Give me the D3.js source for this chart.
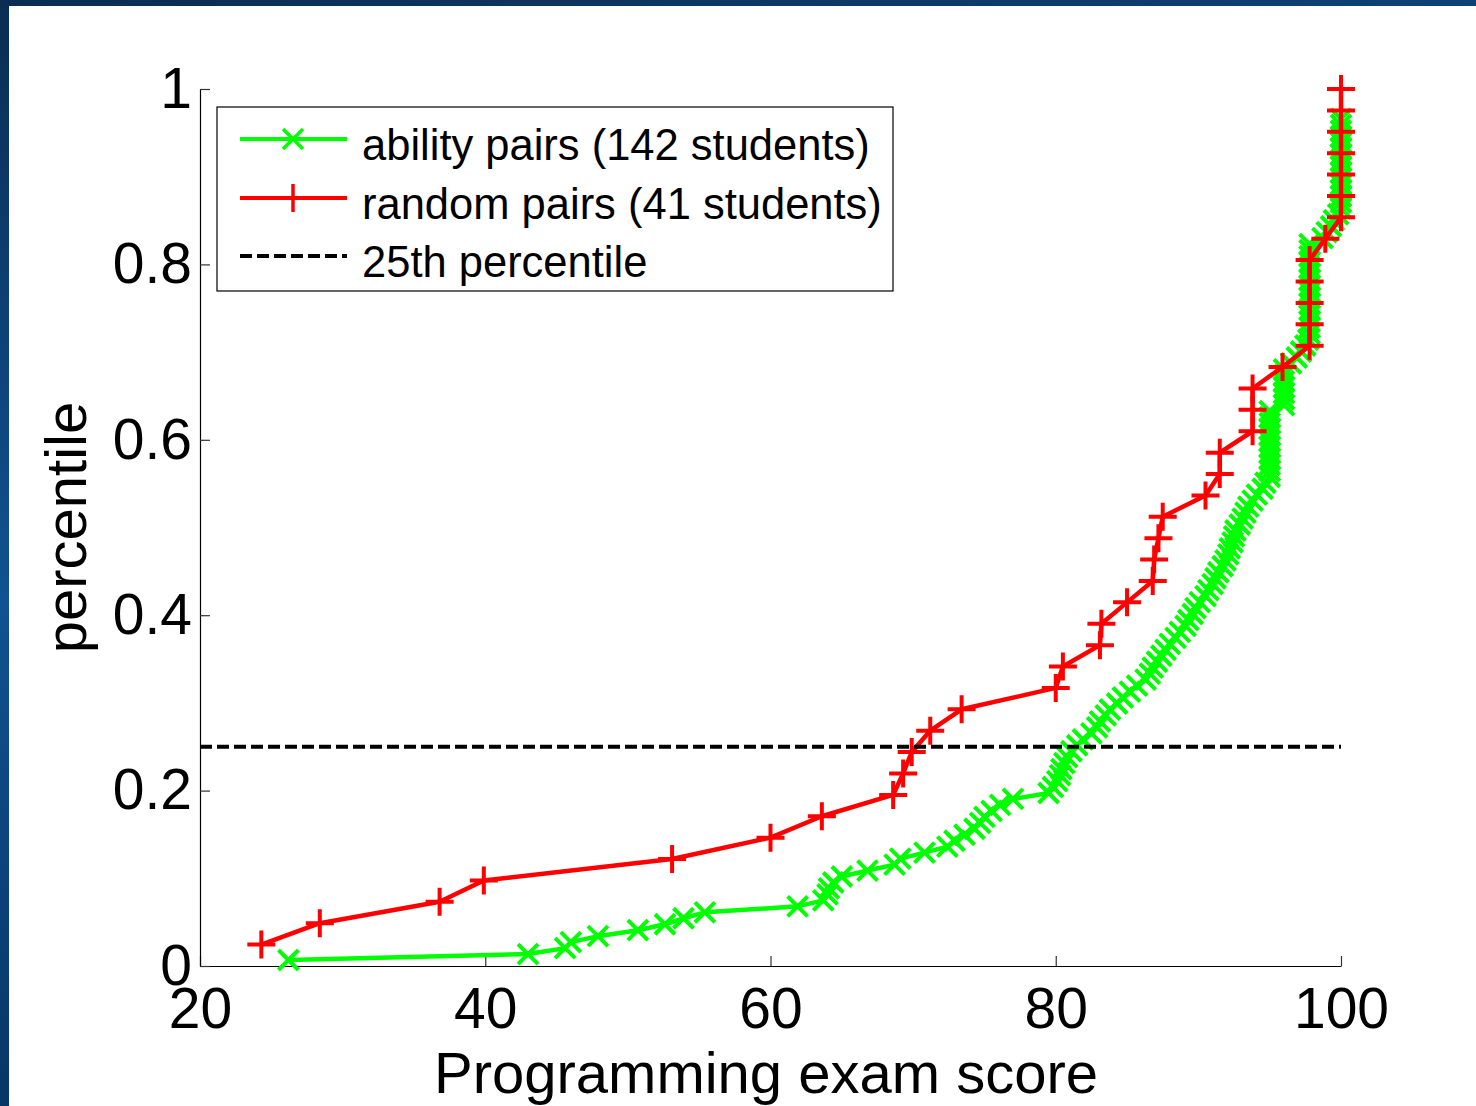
<!DOCTYPE html>
<html>
<head>
<meta charset="utf-8">
<script src="https://cdn.jsdelivr.net/npm/d3@7"></script>
<style>
  html, body { margin: 0; padding: 0; background: #fff; }
  svg { display: block; }
  text { font-family: "Liberation Sans", Arial, sans-serif; fill: #000; }
</style>
</head>
<body>
<div id="chart"></div>
<script>
// scores, sorted (one entry per marker)
var redScores = [24.3, 28.4, 36.8, 39.9, 53.1, 60.0, 63.6, 68.6, 69.3, 69.9,
  71.2, 73.4, 80.0, 80.5, 83.1, 83.2, 85.0, 86.8, 86.9, 87.2,
  87.5, 90.5, 91.5, 91.5, 93.8, 93.8, 93.8, 95.9, 97.8, 97.8,
  97.8, 97.8, 97.8, 98.9, 100, 100, 100, 100, 100, 100, 100];

var greenScores = [26.2, 43.0, 45.6, 46.0, 47.9, 50.7, 52.6, 53.9, 55.4, 61.9,
  63.7, 64.0, 64.1, 64.4, 65.0, 66.8, 68.7, 69.1, 70.8, 72.4,
  72.9, 73.6, 74.3, 74.7, 75.0, 75.5, 76.1, 77.0, 79.5, 79.8,
  80.1, 80.3, 80.4, 80.6, 80.8, 81.1, 81.5, 81.9, 82.5, 82.9,
  83.1, 83.5, 83.8, 84.3, 84.7, 85.2, 85.7, 86.3, 86.6, 86.8,
  87.1, 87.4, 87.7, 88.0, 88.4, 88.7, 89.1, 89.3, 89.6, 89.8,
  90.1, 90.5, 90.7, 91.0, 91.2, 91.4, 91.7, 91.9, 92.1, 92.2,
  92.4, 92.5, 92.6, 92.9, 93.1, 93.3, 93.5, 93.8, 94.1, 94.5,
  94.7, 95, 95, 95, 95, 95, 95, 95, 95, 95,
  95, 95, 95, 96, 96, 96, 96, 96, 96, 96,
  96.5, 96.9, 97.2, 97.5, 97.7, 97.8, 97.8, 97.8, 97.8, 97.8,
  97.8, 97.8, 97.8, 97.8, 97.8, 97.8, 97.8, 97.8, 97.8, 97.8,
  97.8, 98.7, 99.0, 99.3, 99.5, 99.8, 100, 100, 100, 100,
  100, 100, 100, 100, 100, 100, 100, 100, 100, 100,
  100, 100];

// rank divisors: red tops out at 1.0, green's last marker sits near 0.966
var redRankBase = 41;
var greenRankBase = 147;

var cutoff = 0.25;
var xTicks = [20, 40, 60, 80, 100];
var yTicks = [0, 0.2, 0.4, 0.6, 0.8, 1];
var legendLabels = ["ability pairs (142 students)", "random pairs (41 students)", "25th percentile"];

var W = 1476, H = 1106;
var green = "#00ff00", red = "#ff0000";

var svg = d3.select("#chart").append("svg")
  .attr("width", W).attr("height", H);

// slide background: blue frame on top and left
var grad = svg.append("defs").append("linearGradient")
  .attr("id", "bg").attr("x1", 0).attr("y1", 0).attr("x2", 0.3).attr("y2", 1);
grad.append("stop").attr("offset", "0%").attr("stop-color", "#0a2d52");
grad.append("stop").attr("offset", "50%").attr("stop-color", "#115292");
grad.append("stop").attr("offset", "100%").attr("stop-color", "#06305c");
svg.append("rect").attr("width", W).attr("height", H).attr("fill", "url(#bg)");
svg.append("rect").attr("x", 9).attr("y", 6).attr("width", W - 9).attr("height", H - 6).attr("fill", "#fff");

var x = d3.scaleLinear().domain([20, 100]).range([200, 1341]);
var y = d3.scaleLinear().domain([0, 1]).range([966, 89]);

function toPoints(scores, base) {
  return scores.map(function(s, i) { return { score: s, pct: (i + 1) / base }; });
}
var greenData = toPoints(greenScores, greenRankBase);
var redData = toPoints(redScores, redRankBase);

var line = d3.line()
  .x(function(d) { return x(d.score); })
  .y(function(d) { return y(d.pct); });

var crossPath = "M-10,-10L10,10M-10,10L10,-10";
var plusPath = "M-14,0H14M0,-14V14";

// -> axes (ticks pointing inward, like matlab)
var xAxis = svg.append("g")
  .attr("transform", "translate(0,966)")
  .call(d3.axisBottom(x).tickValues(xTicks).tickSize(-10).tickSizeOuter(0).tickPadding(22)
    .tickFormat(d3.format("d")));
var yAxis = svg.append("g")
  .attr("transform", "translate(200,0)")
  .call(d3.axisLeft(y).tickValues(yTicks).tickSize(-10).tickSizeOuter(0).tickPadding(8)
    .tickFormat(function(d) { return d === 0 || d === 1 ? String(d) : d3.format(".1f")(d); }));

[xAxis, yAxis].forEach(function(g) {
  g.selectAll("text").style("font-size", "57px").attr("fill", "#000")
    .style("font-family", "'Liberation Sans', Arial, sans-serif");
  g.select(".domain").attr("stroke", "#000").attr("stroke-width", 1.2);
  g.selectAll(".tick line").attr("stroke", "#333").attr("stroke-width", 1.2);
});

// -> green series
svg.append("path").datum(greenData)
  .attr("fill", "none").attr("stroke", green).attr("stroke-width", 4.5)
  .attr("stroke-linejoin", "round").attr("d", line);
svg.append("g").selectAll("path").data(greenData).enter().append("path")
  .attr("transform", function(d) { return "translate(" + x(d.score) + "," + y(d.pct) + ")"; })
  .attr("d", crossPath).attr("stroke", green).attr("stroke-width", 4).attr("fill", "none");

// -> red series
svg.append("path").datum(redData)
  .attr("fill", "none").attr("stroke", red).attr("stroke-width", 4.5)
  .attr("stroke-linejoin", "round").attr("d", line);
svg.append("g").selectAll("path").data(redData).enter().append("path")
  .attr("transform", function(d) { return "translate(" + x(d.score) + "," + y(d.pct) + ")"; })
  .attr("d", plusPath).attr("stroke", red).attr("stroke-width", 4).attr("fill", "none");

// -> 25th percentile line
svg.append("line")
  .attr("x1", x(20)).attr("x2", x(100)).attr("y1", y(cutoff)).attr("y2", y(cutoff))
  .attr("stroke", "#000").attr("stroke-width", 4).attr("stroke-dasharray", "12,5");

// -> axis titles
svg.append("text")
  .attr("x", 766).attr("y", 1093)
  .attr("text-anchor", "middle").style("font-size", "58px")
  .text("Programming exam score");
svg.append("text")
  .attr("text-anchor", "middle").style("font-size", "58px")
  .attr("transform", "translate(86," + (y(0) + y(1)) / 2 + ")rotate(-90)")
  .text("percentile");

// -> legend
var legend = svg.append("g");
legend.append("rect")
  .attr("x", 217).attr("y", 107).attr("width", 676).attr("height", 184)
  .attr("fill", "#fff").attr("stroke", "#000").attr("stroke-width", 1.2);
var rowY = [139, 198, 256];
var styles = [
  { color: green, marker: crossPath, dash: null },
  { color: red, marker: plusPath, dash: null },
  { color: "#000", marker: null, dash: "12,5" }
];
legendLabels.forEach(function(label, i) {
  var s = styles[i];
  legend.append("line")
    .attr("x1", 240).attr("x2", 347).attr("y1", rowY[i]).attr("y2", rowY[i])
    .attr("stroke", s.color).attr("stroke-width", 4).attr("stroke-dasharray", s.dash);
  if (s.marker) {
    legend.append("path").attr("transform", "translate(293," + rowY[i] + ")")
      .attr("d", s.marker).attr("stroke", s.color).attr("stroke-width", 3.5).attr("fill", "none");
  }
  legend.append("text")
    .attr("x", 362).attr("y", rowY[i] + 21)
    .style("font-size", "43.5px")
    .text(label);
});
</script>
</body>
</html>
